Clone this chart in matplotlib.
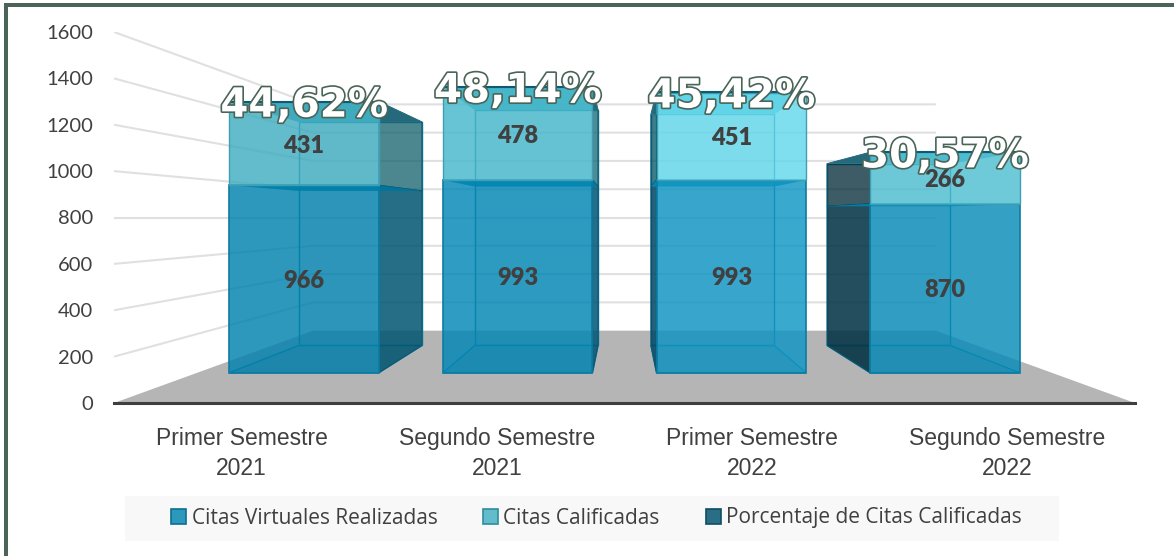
import matplotlib
matplotlib.use('Agg')
import matplotlib.pyplot as plt
import matplotlib.patheffects as pe
import numpy as np
from matplotlib.colors import to_rgb
from matplotlib.patches import Polygon, Rectangle

# Data
categorias = ['Primer Semestre\n2021', 'Segundo Semestre\n2021', 'Primer Semestre\n2022', 'Segundo Semestre\n2022']
realizadas = [966, 993, 993, 870]
calificadas = [431, 478, 451, 266]
porcentaje = [44.62, 48.14, 45.42, 30.57]
y_ticks = [0, 200, 400, 600, 800, 1000, 1200, 1400, 1600]
series_names = ['Citas Virtuales Realizadas', 'Citas Calificadas', 'Porcentaje de Citas Calificadas']

# Colors per bar (as seen on white)
front_low = ['#2b98bc', '#2f9dc3', '#3aa9cf', '#33a0c5']
front_high = ['#62bccb', '#67c5d5', '#80dfef', '#6ecad9']
band_low = ['#0f83a8', '#1088ae', '#2095bb', '#1190b5']
ceil_high = ['#45a5b8', '#4fb0c2', '#5cc6da', '#4fb3c6']
side_low = ['#286f88', '#17708e', '#14647f', '#26505f']
side_high = ['#4f8a94', '#4f8f9c', '#3f7f8c', '#3f5f68']
edge_col = '#0c7ca3'
dark_col = '#0f5a72'
text_col = '#404040'
frame_col = '#4a6558'

# Perspective: vanishing point sits on the 800 gridline, middle of the chart
van_x = 1.5
van_y = 800
s_wall = 0.61
s_front = 0.837
s_back = 0.69
bar_w = 0.70


def project(x, v, s):
    return (van_x + s * (x - van_x), van_y + s * (v - van_y))


def tint(color, a):
    # color that gives the wanted shade on white at this alpha
    rgb = np.array(to_rgb(color))
    return tuple(np.clip((rgb - (1 - a)) / a, 0, 1)) + (a,)


fig = plt.figure(figsize=(11.74, 5.56), dpi=100, facecolor='white')
ax = fig.add_axes([114 / 1174, (556 - 403) / 556, (1135 - 114) / 1174, (403 - 32) / 556])
ax.set_xlim(-0.5, 3.5)
ax.set_ylim(0, 1600)
ax.patch.set_visible(False)


def face(points, color, alpha=1.0, ec='none', lw=0.0, z=3):
    ax.add_patch(Polygon(points, closed=True, facecolor=tint(color, alpha), edgecolor=ec, linewidth=lw, zorder=z, clip_on=False))


# Gridlines: side wall then back wall
for v in y_ticks[1:]:
    p0 = project(-0.5, v, 1)
    p1 = project(-0.5, v, s_wall)
    p2 = project(3.5, v, s_wall)
    ax.plot([p0[0], p1[0], p2[0]], [p0[1], p1[1], p2[1]], color='#e0e0e0', linewidth=1.5, zorder=1, solid_capstyle='butt')

# Floor
face([project(-0.5, 0, 1), project(3.5, 0, 1), project(3.5, 0, s_wall), project(-0.5, 0, s_wall)], '#b5b5b5', z=2)

# Bars
for i in range(4):
    xl = i - bar_w / 2
    xr = i + bar_w / 2
    x_side = xr if xr < van_x else xl
    v0 = 0
    v1 = realizadas[i]
    v2 = v1 + calificadas[i]
    v3 = v2 + porcentaje[i] / 100

    # bottom and back faces, mostly just their edges show through
    face([project(xl, 0, s_front), project(xr, 0, s_front), project(xr, 0, s_back), project(xl, 0, s_back)],
         front_low[i], 0.12, ec=edge_col, lw=1.0, z=3)
    face([project(xl, 0, s_back), project(xr, 0, s_back), project(xr, v3, s_back), project(xl, v3, s_back)],
         front_low[i], 0.05, ec=edge_col, lw=1.0, z=3)

    # side faces
    face([project(x_side, v0, s_front), project(x_side, v0, s_back), project(x_side, v1, s_back), project(x_side, v1, s_front)],
         side_low[i], 0.85, ec=dark_col, lw=0.8, z=4)
    face([project(x_side, v1, s_front), project(x_side, v1, s_back), project(x_side, v2, s_back), project(x_side, v2, s_front)],
         side_high[i], 0.75, ec=dark_col, lw=0.8, z=4)

    # underside of each segment, seen from below the horizon
    face([project(xl, v1, s_front), project(xr, v1, s_front), project(xr, v1, s_back), project(xl, v1, s_back)],
         band_low[i], 0.9, z=5)
    face([project(xl, v2, s_front), project(xr, v2, s_front), project(xr, v2, s_back), project(xl, v2, s_back)],
         ceil_high[i], 0.9, z=5)

    # darker wedge at the top of the side face
    a = project(x_side, v3, s_front)
    b = project(x_side, v3, s_back)
    face([a, b, (a[0], b[1])], '#26697a', 1.0, z=5.5)

    # front faces
    lo = [project(xl, v0, s_front), project(xr, v0, s_front), project(xr, v1, s_front), project(xl, v1, s_front)]
    hi = [project(xl, v1, s_front), project(xr, v1, s_front), project(xr, v2, s_front), project(xl, v2, s_front)]
    face(lo, front_low[i], 0.82, ec=edge_col, lw=1.2, z=6)
    face(hi, front_high[i], 0.82, ec='#3f9fb2', lw=1.0, z=6)

    # third series is almost flat: only a dark rim on top
    t0 = project(xl, v3, s_front)
    t1 = project(xr, v3, s_front)
    ax.plot([t0[0], t1[0]], [t0[1], t1[1]], color=dark_col, linewidth=1.5, zorder=7)

    # value labels, centered in their segment on the front plane
    for val, mid in [(realizadas[i], v1 / 2), (calificadas[i], v1 + calificadas[i] / 2)]:
        ax.annotate(str(val), project(i, mid, s_front), xytext=(0, -1.5), textcoords='offset points',
                    ha='center', va='center', fontsize=17, fontweight='heavy',
                    family='Lato', color=text_col, zorder=9)

    # percent labels
    px, py = project(i, v3, s_front)
    ax.annotate(f'{porcentaje[i]:.2f}%'.replace('.', ','), (px, py), xytext=(0, -3), textcoords='offset points',
                ha='center', va='center', fontsize=29, fontweight='bold', family='DejaVu Sans', color='white', zorder=10,
                path_effects=[pe.withStroke(linewidth=2.4, foreground=frame_col)])

# Axis
for name in ['top', 'left', 'right']:
    ax.spines[name].set_visible(False)
ax.spines['bottom'].set_linewidth(2.2)
ax.spines['bottom'].set_color('#3f3f3f')
ax.spines['bottom'].set_zorder(8)
ax.set_yticks(y_ticks)
ax.set_yticklabels([str(v) for v in y_ticks], family='Lato', fontsize=14.5, color=text_col)
ax.set_xticks(range(4))
ax.set_xticklabels(categorias, family='Liberation Sans', fontsize=16.5, color=text_col, linespacing=1.42)
ax.tick_params(axis='y', length=0, pad=15)
ax.tick_params(axis='x', length=0, pad=17)

# Frame on top and left of the picture
fig.add_artist(Rectangle((4 / 1174, 0), 4 / 1174, (556 - 3) / 556, transform=fig.transFigure, facecolor=frame_col, edgecolor='none'))
fig.add_artist(Rectangle((4 / 1174, (556 - 7) / 556), 1170 / 1174, 4 / 556, transform=fig.transFigure, facecolor=frame_col, edgecolor='none'))

# Legend strip
fig.add_artist(Rectangle((125 / 1174, (556 - 541) / 556), 934 / 1174, 45 / 556, transform=fig.transFigure, facecolor='#f8f8f8', edgecolor='none', zorder=-1))
handles = [
    Rectangle((0, 0), 1, 1, facecolor='#2b98bc', edgecolor='#0c6f90', linewidth=1.2),
    Rectangle((0, 0), 1, 1, facecolor='#62bccb', edgecolor='#2e8c9c', linewidth=1.2),
    Rectangle((0, 0), 1, 1, facecolor='#2a6e85', edgecolor='#0f4d62', linewidth=1.2),
]
fig.legend(handles, series_names, loc='center', bbox_to_anchor=(596.5 / 1174, (556 - 518) / 556), ncol=3, frameon=False,
           prop={'family': 'Open Sans', 'size': 15}, labelcolor=text_col, handlelength=0.72, handleheight=0.72,
           handletextpad=0.25, columnspacing=2.2, borderpad=0)

fig.savefig('out.png', dpi=100)
